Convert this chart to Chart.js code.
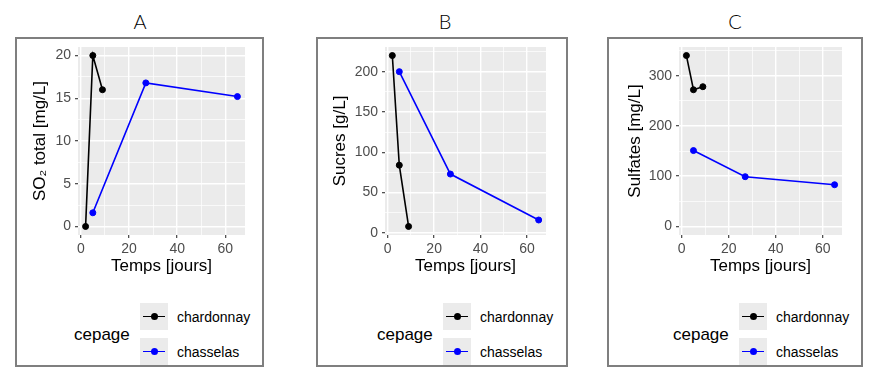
<!DOCTYPE html>
<html>
<head>
<meta charset="utf-8">
<script src="https://cdn.jsdelivr.net/npm/chart.js@4.4.1/dist/chart.umd.min.js"></script>
<style>
  body { margin: 0; background: #fff; width: 870px; height: 367px; overflow: hidden; position: relative;
         font-family: 'Liberation Sans', Arial, sans-serif; }
  .title { position: absolute; top: 21px; transform: translate(-50%, -50%); font-family: Lato, sans-serif;
           font-weight: 300; font-size: 20px; color: #000; }
  .box { position: absolute; top: 37px; height: 326px; border: 2px solid #7f7f7f; }
  canvas { position: absolute; }
  .legend-title { position: absolute; top: 335px; transform: translateY(-50%); font-size: 17px; color: #000; }
  .key { position: absolute; width: 28px; height: 27px; background: #ebebeb; }
  .key .line { position: absolute; left: 3px; right: 3px; top: 12.75px; height: 1.5px; }
  .key .dot { position: absolute; left: 10.5px; top: 10px; width: 7px; height: 7px; border-radius: 50%; }
  .key-label { position: absolute; transform: translateY(-50%); font-size: 14px; color: #000; }
</style>
</head>
<body>
<script>
// Data
const cepages = ['chardonnay', 'chasselas'];
const cepageColors = ['#000000', '#0000ff'];

const chardonnayDays = [2, 5, 9];
const chasselasDays = [5, 27, 65];

const so2Chardonnay = [0, 20, 16];
const so2Chasselas = [1.6, 16.8, 15.2];
const sucresChardonnay = [220, 84, 8];
const sucresChasselas = [200, 73, 16];
const sulfatesChardonnay = [340, 272, 278];
const sulfatesChasselas = [151, 99, 83];

// Ticks
const xMajor = [0, 20, 40, 60];
const xMinor = [10, 30, 50];
const so2Major = [0, 5, 10, 15, 20];
const so2Minor = [2.5, 7.5, 12.5, 17.5];
const sucresMajor = [0, 50, 100, 150, 200];
const sucresMinor = [25, 75, 125, 175, 225];
const sulfatesMajor = [0, 100, 200, 300];
const sulfatesMinor = [50, 150, 250, 350];

const panels = [
    { label: 'A', yTitle: 'SO\u2082 total [mg/L]', chard: so2Chardonnay, chass: so2Chasselas,
      yMajor: so2Major, yMinor: so2Minor, yMin: -1, yMax: 21,
      box: 15, boxW: 245, titleX: 140, yW: 61, padR: 17, yTitlePad: 13, legendX: 74 },
    { label: 'B', yTitle: 'Sucres [g/L]', chard: sucresChardonnay, chass: sucresChasselas,
      yMajor: sucresMajor, yMinor: sucresMinor, yMin: -2.6, yMax: 230.6,
      box: 316, boxW: 248, titleX: 445, yW: 67, padR: 20, yTitlePad: 12, legendX: 377 },
    { label: 'C', yTitle: 'Sulfates [mg/L]', chard: sulfatesChardonnay, chass: sulfatesChasselas,
      yMajor: sulfatesMajor, yMinor: sulfatesMinor, yMin: -17, yMax: 357,
      box: 607, boxW: 252, titleX: 735, yW: 70, padR: 19, yTitlePad: 16, legendX: 673 }
];

// grey panel background
const panelBg = {
    id: 'panelBg',
    beforeDraw(chart) {
        const { ctx, chartArea: a } = chart;
        ctx.save();
        ctx.fillStyle = '#ebebeb';
        ctx.fillRect(a.left, a.top, a.right - a.left, a.bottom - a.top);
        ctx.restore();
    }
};

function el(tag, cls, style, text) {
    const e = document.createElement(tag);
    if (cls) e.className = cls;
    Object.assign(e.style, style || {});
    if (text) e.textContent = text;
    document.body.appendChild(e);
    return e;
}

function toPoints(xs, ys) {
    return xs.map((x, i) => ({ x: x, y: ys[i] }));
}

function makeAxis(major, minor, min, max, title, extra) {
    const all = major.concat(minor).sort((a, b) => a - b);
    return Object.assign({
        type: 'linear',
        min: min,
        max: max,
        border: { display: false },
        afterBuildTicks: (axis) => { axis.ticks = all.map(v => ({ value: v })); },
        grid: {
            color: '#ffffff',
            lineWidth: (c) => major.includes(c.tick.value) ? 1.4 : 0.7,
            tickColor: (c) => major.includes(c.tick.value) ? '#333333' : 'rgba(0,0,0,0)',
            tickWidth: 1.1,
            tickLength: 3
        },
        ticks: {
            color: '#4d4d4d',
            font: { family: "'Liberation Sans', Arial, sans-serif", size: 14 },
            padding: 3,
            maxRotation: 0,
            autoSkip: false,
            callback: (v) => major.includes(v) ? String(v) : ''
        },
        title: {
            display: true,
            text: title,
            color: '#000',
            font: { family: "'Liberation Sans', Arial, sans-serif", size: 17 }
        }
    }, extra);
}

panels.forEach(p => {
    el('div', 'title', { left: p.titleX + 'px' }, p.label);
    el('div', 'box', { left: p.box + 'px', width: p.boxW + 'px' });

    const canvas = el('canvas', null, { left: (p.box + 2) + 'px', top: '39px' });
    canvas.width = p.boxW;
    canvas.height = 238;
    canvas.style.width = p.boxW + 'px';
    canvas.style.height = '238px';

    const xAxis = makeAxis(xMajor, xMinor, -1.15, 68.15, 'Temps [jours]', {
        afterFit: (s) => { s.height = 42; s.paddingLeft = 0; s.paddingRight = 0; }
    });
    xAxis.title.padding = { top: 0, bottom: 0 };

    const yAxis = makeAxis(p.yMajor, p.yMinor, p.yMin, p.yMax, p.yTitle, {
        afterFit: (s) => { s.width = p.yW; s.paddingTop = 0; s.paddingBottom = 0; }
    });
    yAxis.ticks.padding = 4;
    yAxis.title.padding = { top: p.yTitlePad, bottom: 0 };

    const series = [toPoints(chardonnayDays, p.chard), toPoints(chasselasDays, p.chass)];

    new Chart(canvas.getContext('2d'), {
        type: 'scatter',
        data: {
            datasets: cepages.map((name, i) => ({
                label: name,
                data: series[i],
                showLine: true,
                borderColor: cepageColors[i],
                backgroundColor: cepageColors[i],
                borderWidth: 1.6,
                pointRadius: 3,
                pointBorderWidth: 1,
                tension: 0
            }))
        },
        options: {
            responsive: false,
            animation: false,
            events: [],
            layout: { padding: { top: 8, right: p.padR, left: 0, bottom: 0 } },
            plugins: { legend: { display: false }, tooltip: { enabled: false } },
            scales: { x: xAxis, y: yAxis }
        },
        plugins: [panelBg]
    });

    // legend
    el('div', 'legend-title', { left: p.legendX + 'px' }, 'cepage');
    cepages.forEach((name, i) => {
        const keyX = p.legendX + 66;
        const keyY = 303 + i * 35;
        const key = el('div', 'key', { left: keyX + 'px', top: keyY + 'px' });
        const line = document.createElement('div');
        line.className = 'line';
        line.style.background = cepageColors[i];
        key.appendChild(line);
        const dot = document.createElement('div');
        dot.className = 'dot';
        dot.style.background = cepageColors[i];
        key.appendChild(dot);
        el('div', 'key-label', { left: (keyX + 37) + 'px', top: (keyY + 14) + 'px' }, name);
    });
});
</script>
</body>
</html>
